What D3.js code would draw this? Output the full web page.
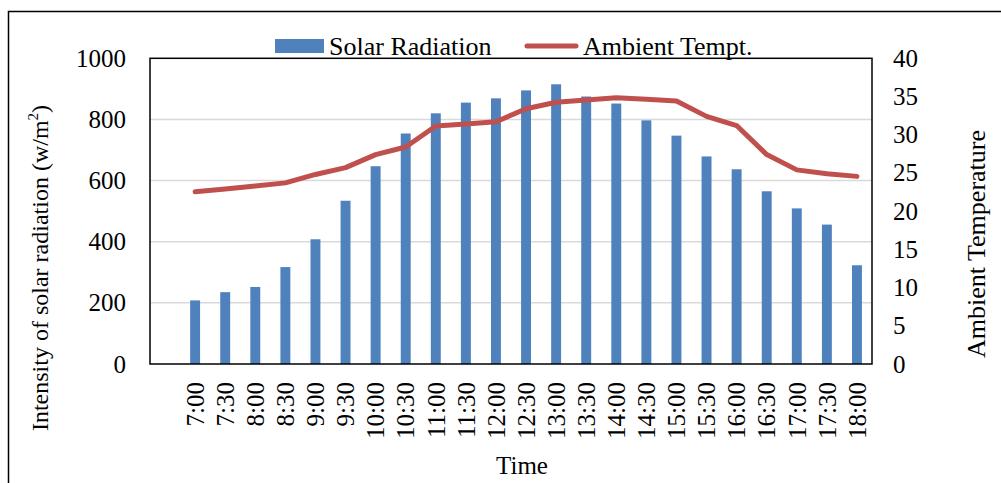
<!DOCTYPE html>
<html><head><meta charset="utf-8">
<script src="https://cdn.jsdelivr.net/npm/d3@7"></script>
<style>body{margin:0;background:#fff}svg text{font-family:"Liberation Serif","Times New Roman",serif;fill:#000}</style>
</head><body>
<svg id="c" width="1001" height="483"></svg>
<script>
const categories = ["", "7:00","7:30","8:00","8:30","9:00","9:30","10:00","10:30","11:00","11:30","12:00","12:30","13:00","13:30","14:00","14:30","15:00","15:30","16:00","16:30","17:00","17:30","18:00"];
const radiation = [null, 208,235,252,317,408,534,647,754,820,855,869,895,915,875,852,797,747,679,637,565,509,456,323];
const temperature = [null, 22.55,22.9,23.3,23.7,24.8,25.7,27.4,28.4,31.15,31.4,31.7,33.4,34.25,34.55,34.85,34.65,34.4,32.4,31.2,27.4,25.4,24.9,24.55];
const leftTicks = [0,200,400,600,800,1000];
const rightTicks = [0,5,10,15,20,25,30,35,40];

const svg = d3.select("#c");
const L = 150, R = 872, T = 58.3, B = 364;
const FS = 25;

// outer frame
svg.append("rect").attr("x",8.5).attr("y",11.5).attr("width",1100).attr("height",600)
  .attr("fill","none").attr("stroke","#000").attr("stroke-width",1.5);

const x = d3.scaleBand().domain(categories.map((d,i)=>i)).range([L,R]).paddingInner(0).paddingOuter(0);
const yL = d3.scaleLinear().domain([0,1000]).range([B,T]);
const yR = d3.scaleLinear().domain([0,40]).range([B,T]);

// gridlines
svg.append("g").selectAll("line").data(leftTicks.filter(d=>d>0&&d<1000)).join("line")
  .attr("x1",L).attr("x2",R).attr("y1",d=>yL(d)).attr("y2",d=>yL(d))
  .attr("stroke","#d9d9d9").attr("stroke-width",1.5);

// bars
const bw = x.bandwidth()*0.33;
svg.append("g").selectAll("rect").data(radiation.map((v,i)=>({v,i})).filter(d=>d.v!=null)).join("rect")
  .attr("x",d=>x(d.i)+x.bandwidth()/2-bw/2).attr("width",bw)
  .attr("y",d=>yL(d.v)).attr("height",d=>B-yL(d.v))
  .attr("fill","#4F81BD");

// line
const line = d3.line().defined(d=>d.v!=null).x(d=>x(d.i)+x.bandwidth()/2).y(d=>yR(d.v));
svg.append("path").datum(temperature.map((v,i)=>({v,i})))
  .attr("d",line).attr("fill","none").attr("stroke","#C0504D").attr("stroke-width",5)
  .attr("stroke-linecap","round").attr("stroke-linejoin","round");

// plot frame
svg.append("rect").attr("x",L).attr("y",T).attr("width",R-L).attr("height",B-T)
  .attr("fill","none").attr("stroke","#000").attr("stroke-width",1.5);

// left axis
const axL = svg.append("g").attr("transform",`translate(${L},0)`)
  .call(d3.axisLeft(yL).tickValues(leftTicks).tickSize(0).tickPadding(24).tickFormat(d3.format("d")));
axL.select(".domain").remove();
axL.selectAll("text").attr("font-size",FS).attr("font-family","Liberation Serif");

// right axis
const axR = svg.append("g").attr("transform",`translate(${R},0)`)
  .call(d3.axisRight(yR).tickValues(rightTicks).tickSize(0).tickPadding(21));
axR.select(".domain").remove();
axR.selectAll("text").attr("font-size",FS).attr("font-family","Liberation Serif");

// x axis labels
const axB = svg.append("g").attr("transform",`translate(0,${B})`)
  .call(d3.axisBottom(x).tickSize(0).tickFormat(i=>categories[i]));
axB.select(".domain").remove();
axB.selectAll("text").attr("font-size",FS).attr("font-family","Liberation Serif")
  .attr("text-anchor","end").attr("dy","0.35em").attr("dx",0)
  .attr("transform",function(){return "translate(0,18) rotate(-90)";}).attr("x",0).attr("y",0);

// axis titles
svg.append("text").attr("x",522).attr("y",474).attr("text-anchor","middle").attr("font-size",FS).text("Time");
const lt = svg.append("text").attr("transform","translate(48,268) rotate(-90)").attr("text-anchor","middle").attr("font-size",24);
lt.append("tspan").text("Intensity of solar radiation (w/m");
lt.append("tspan").attr("font-size",15).attr("dy",-10).text("2");
lt.append("tspan").attr("dy",10).text(")");
svg.append("text").attr("transform","translate(985,244) rotate(-90)").attr("text-anchor","middle").attr("font-size",26).text("Ambient Temperature");

// legend
const lg = svg.append("g");
lg.append("rect").attr("x",275).attr("y",39).attr("width",49).attr("height",14).attr("fill","#4F81BD");
lg.append("text").attr("x",329).attr("y",55).attr("font-size",FS+1).text("Solar Radiation");
lg.append("line").attr("x1",527).attr("x2",576).attr("y1",46).attr("y2",46).attr("stroke","#C0504D").attr("stroke-width",5).attr("stroke-linecap","round");
lg.append("text").attr("x",583).attr("y",55).attr("font-size",FS+1).text("Ambient Tempt.");
</script>
</body></html>
